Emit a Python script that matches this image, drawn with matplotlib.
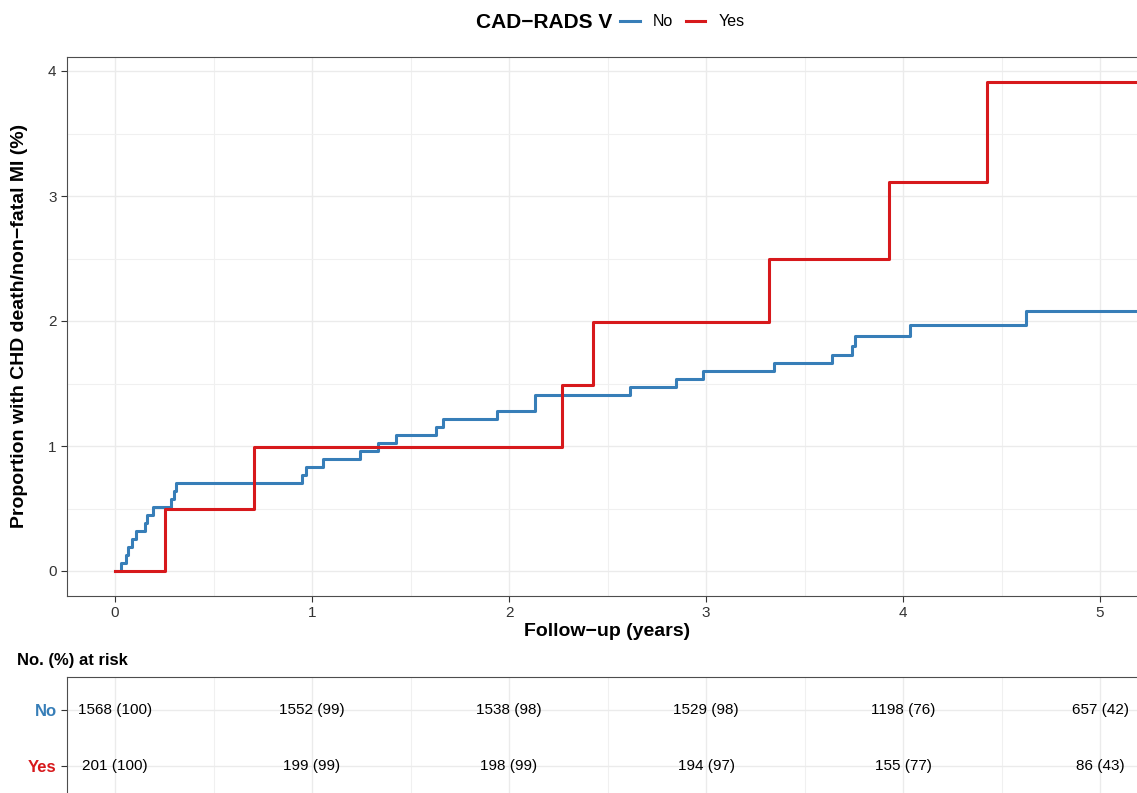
import matplotlib.pyplot as plt
from matplotlib.lines import Line2D

# cumulative incidence (%); times in years
no_times = [0, 0.029, 0.056, 0.068, 0.088, 0.105, 0.154, 0.164, 0.195, 0.284, 0.30, 0.31,
            0.948, 0.968, 1.054, 1.244, 1.333, 1.426, 1.629, 1.663, 1.94, 2.132,
            2.614, 2.848, 2.983, 3.347, 3.64, 3.743, 3.758, 4.035, 4.624, 5.4]
no_pct = [0, 0.064, 0.128, 0.19, 0.255, 0.319, 0.383, 0.447, 0.51, 0.574, 0.638, 0.702,
          0.766, 0.83, 0.893, 0.957, 1.021, 1.085, 1.149, 1.213, 1.277, 1.405,
          1.47, 1.54, 1.60, 1.665, 1.73, 1.80, 1.88, 1.97, 2.08, 2.08]
yes_times = [0, 0.254, 0.706, 2.267, 2.428, 3.32, 3.93, 4.426, 5.4]
yes_pct = [0, 0.4975, 0.995, 1.49, 1.99, 2.50, 3.11, 3.91, 3.91]

risk_times = [0, 1, 2, 3, 4, 5]
risk_no = ['1568 (100)', '1552 (99)', '1538 (98)', '1529 (98)', '1198 (76)', '657 (42)']
risk_yes = ['201 (100)', '199 (99)', '198 (99)', '194 (97)', '155 (77)', '86 (43)']

BLUE = '#377EB8'
RED = '#D7191C'
FONT = 'Liberation Sans'
plt.rcParams['font.family'] = [FONT, 'DejaVu Sans']

W, H = 1137, 793
fig = plt.figure(figsize=(W / 100, H / 100), dpi=100)

def style(ax):
    for s in ax.spines.values():
        s.set_color('#4D4D4D')
        s.set_linewidth(0.8)
    ax.tick_params(colors='#333333', labelcolor='#333333', labelsize=11, length=4, width=0.8)
    ax.grid(True, which='major', color='#EBEBEB', lw=1.0)
    ax.grid(True, which='minor', color='#F0F0F0', lw=0.8)
    ax.set_axisbelow(True)

# main panel
ax = fig.add_axes([67 / W, 1 - 596 / H, (1140 - 67) / W, (596 - 57) / H])
ax.step(no_times, no_pct, where='post', color=BLUE, lw=2.2)
ax.step(yes_times, yes_pct, where='post', color=RED, lw=2.2)
ax.set_xlim(-0.2437, 5.203)
ax.set_ylim(-0.2, 4.112)
ax.set_xticks(risk_times)
ax.set_xticks([0.5, 1.5, 2.5, 3.5, 4.5], minor=True)
ax.set_yticks([0, 1, 2, 3, 4])
ax.set_yticks([0.5, 1.5, 2.5, 3.5], minor=True)
style(ax)
ax.tick_params(which='minor', length=0)

fig.text(607 / W, 1 - 631 / H, 'Follow\u2212up (years)', ha='center', va='center',
         fontsize=14, fontweight='bold')
fig.text(20 / W, 1 - 326 / H, 'Proportion with CHD death/non\u2212fatal MI (%)', ha='center',
         va='center', rotation=90, fontsize=14, fontweight='bold')

# legend on top
fig.text(612 / W, 1 - 22 / H, 'CAD\u2212RADS V', ha='right', va='center',
         fontsize=15, fontweight='bold')
handles = [Line2D([], [], color=BLUE, lw=2.2), Line2D([], [], color=RED, lw=2.2)]
fig.legend(handles, ['No', 'Yes'], ncol=2, loc='center left',
           bbox_to_anchor=(606 / W, 1 - 22 / H), frameon=False, fontsize=11.5,
           handlelength=1.2, handletextpad=0.85, columnspacing=0.8)

# risk table
fig.text(17 / W, 1 - 660 / H, 'No. (%) at risk', ha='left', va='center',
         fontsize=12, fontweight='bold')
tab = fig.add_axes([67 / W, 1 - 799 / H, (1140 - 67) / W, (799 - 677) / H])
tab.set_xlim(-0.2437, 5.203)
tab.set_ylim(0.4, 2.6)
for t, a, b in zip(risk_times, risk_no, risk_yes):
    tab.text(t, 2, a, ha='center', va='center', fontsize=11)
    tab.text(t, 1, b, ha='center', va='center', fontsize=11)
tab.set_xticks(risk_times)
tab.set_xticks([0.5, 1.5, 2.5, 3.5, 4.5], minor=True)
tab.set_yticks([1, 2])
tab.set_yticklabels(['Yes', 'No'])
style(tab)
tab.tick_params(which='minor', length=0)
tab.tick_params(axis='x', labelbottom=False)
for lbl, c in zip(tab.get_yticklabels(), [RED, BLUE]):
    lbl.set_color(c)
    lbl.set_fontweight('bold')
    lbl.set_fontsize(12)

fig.savefig('out.png', dpi=100)
